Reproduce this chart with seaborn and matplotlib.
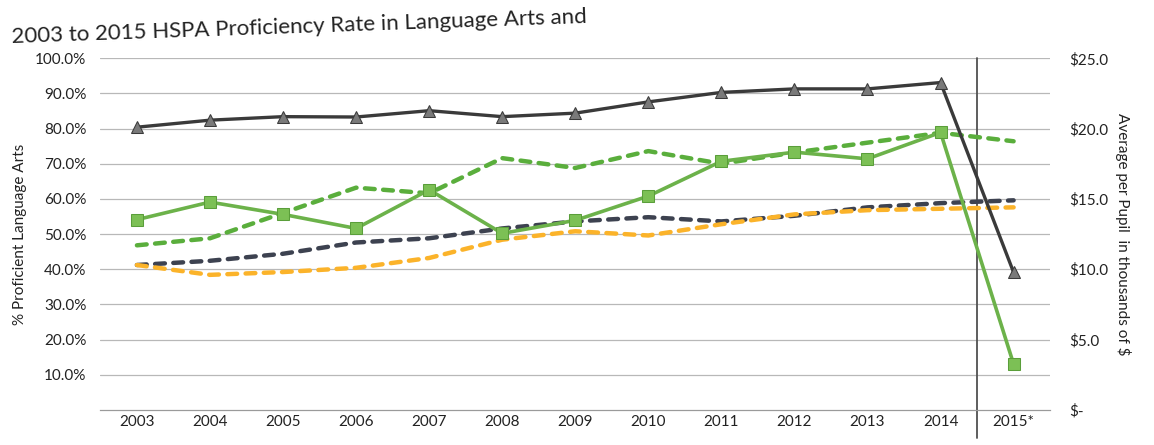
import numpy as np
import seaborn as sns
import matplotlib.pyplot as plt

sns.set_style('white')
plt.rcParams['font.family'] = ['Lato', 'DejaVu Sans']

years = ['2003', '2004', '2005', '2006', '2007', '2008', '2009', '2010', '2011', '2012', '2013', '2014', '2015*']

# proficiency rates (left axis, %)
prof_black = [80.4, 82.4, 83.4, 83.3, 85.1, 83.4, 84.4, 87.6, 90.3, 91.3, 91.3, 93.1, 39.1]
prof_green = [54.1, 59.1, 55.6, 51.6, 62.6, 50.2, 53.9, 60.8, 70.7, 73.3, 71.4, 78.9, 13.0]

# per pupil spending (right axis, thousands of $)
spend_green = [11.7, 12.2, 14.0, 15.8, 15.4, 17.9, 17.2, 18.4, 17.5, 18.3, 19.0, 19.7, 19.1]
spend_navy = [10.3, 10.6, 11.1, 11.9, 12.2, 12.9, 13.4, 13.7, 13.4, 13.8, 14.4, 14.7, 14.9]
spend_orange = [10.3, 9.6, 9.8, 10.1, 10.8, 12.1, 12.7, 12.4, 13.2, 13.9, 14.2, 14.3, 14.4]

xpos = np.arange(len(years))

fig = plt.figure(figsize=(11.54, 4.45), dpi=100)
ax = fig.add_axes([0.087, 0.079, 0.823, 0.79])
ax2 = ax.twinx()

# spending lines (dashed)
sns.lineplot(x=xpos, y=spend_green, ax=ax2, color='#5aae3c', lw=3.2, dashes=False)
sns.lineplot(x=xpos, y=spend_navy, ax=ax2, color='#3d4250', lw=3.2, dashes=False)
sns.lineplot(x=xpos, y=spend_orange, ax=ax2, color='#fbb32a', lw=3.2, dashes=False)
for ln in ax2.get_lines():
    ln.set_linestyle((0, (2.2, 1.9)))
    ln.set_dash_capstyle('round')

# proficiency lines (solid with markers)
sns.lineplot(x=xpos, y=prof_black, ax=ax2, color='#3a3a3a', lw=2.4, marker='^', markersize=8,
             markerfacecolor='#7a7a7a', markeredgecolor='#3a3a3a', zorder=5,
             transform=ax.transData)
sns.lineplot(x=xpos, y=prof_green, ax=ax2, color='#6cb24a', lw=2.6, marker='s', markersize=8,
             markerfacecolor='#7cc055', markeredgecolor='#5a9e3a', zorder=5,
             transform=ax.transData)

ax.axvline(11.5, ymin=-0.08, ymax=1.0, color='#505050', lw=1.3, clip_on=False, zorder=6)

ax.set_xlim(-0.5, 12.5)
ax.set_ylim(0, 100)
ax2.set_ylim(0, 25)

ax.set_yticks(np.arange(10, 101, 10))
ax.set_yticklabels(['{:.1f}%'.format(v) for v in np.arange(10, 101, 10)])
ax2.set_yticks(np.arange(0, 26, 5))
ax2.set_yticklabels(['$-'] + ['${:.1f}'.format(v) for v in np.arange(5, 26, 5)])
ax.set_xticks(xpos)
ax.set_xticklabels(years)
ax.set_xticks(np.arange(-0.5, 12.6, 1), minor=True)

ax.grid(axis='y', color='#b8b8b8', lw=0.9)
ax.grid(axis='x', visible=False)
for a in (ax, ax2):
    for s in ['top', 'left', 'right']:
        a.spines[s].set_visible(False)
    a.spines['bottom'].set_color('#9a9a9a')
    a.tick_params(axis='both', length=0, labelsize=11, colors='#222222', pad=10)
ax.tick_params(axis='x', which='minor', length=6, color='#bbbbbb', direction='out')
ax.tick_params(axis='x', pad=4)
ax2.tick_params(axis='y', pad=14)

ax.set_ylabel('% Proficient Language Arts', fontsize=11, color='#222222', labelpad=6)
ax2.set_ylabel('Average per Pupil  in thousands of $', fontsize=11, color='#222222',
               rotation=-90, labelpad=16)

fig.text(0.01, 0.895, '2003 to 2015 HSPA Proficiency Rate in Language Arts and',
         fontsize=16, color='#222222', rotation=2.0, ha='left', va='bottom',
         rotation_mode='anchor')

plt.savefig('out.png', dpi=100)
